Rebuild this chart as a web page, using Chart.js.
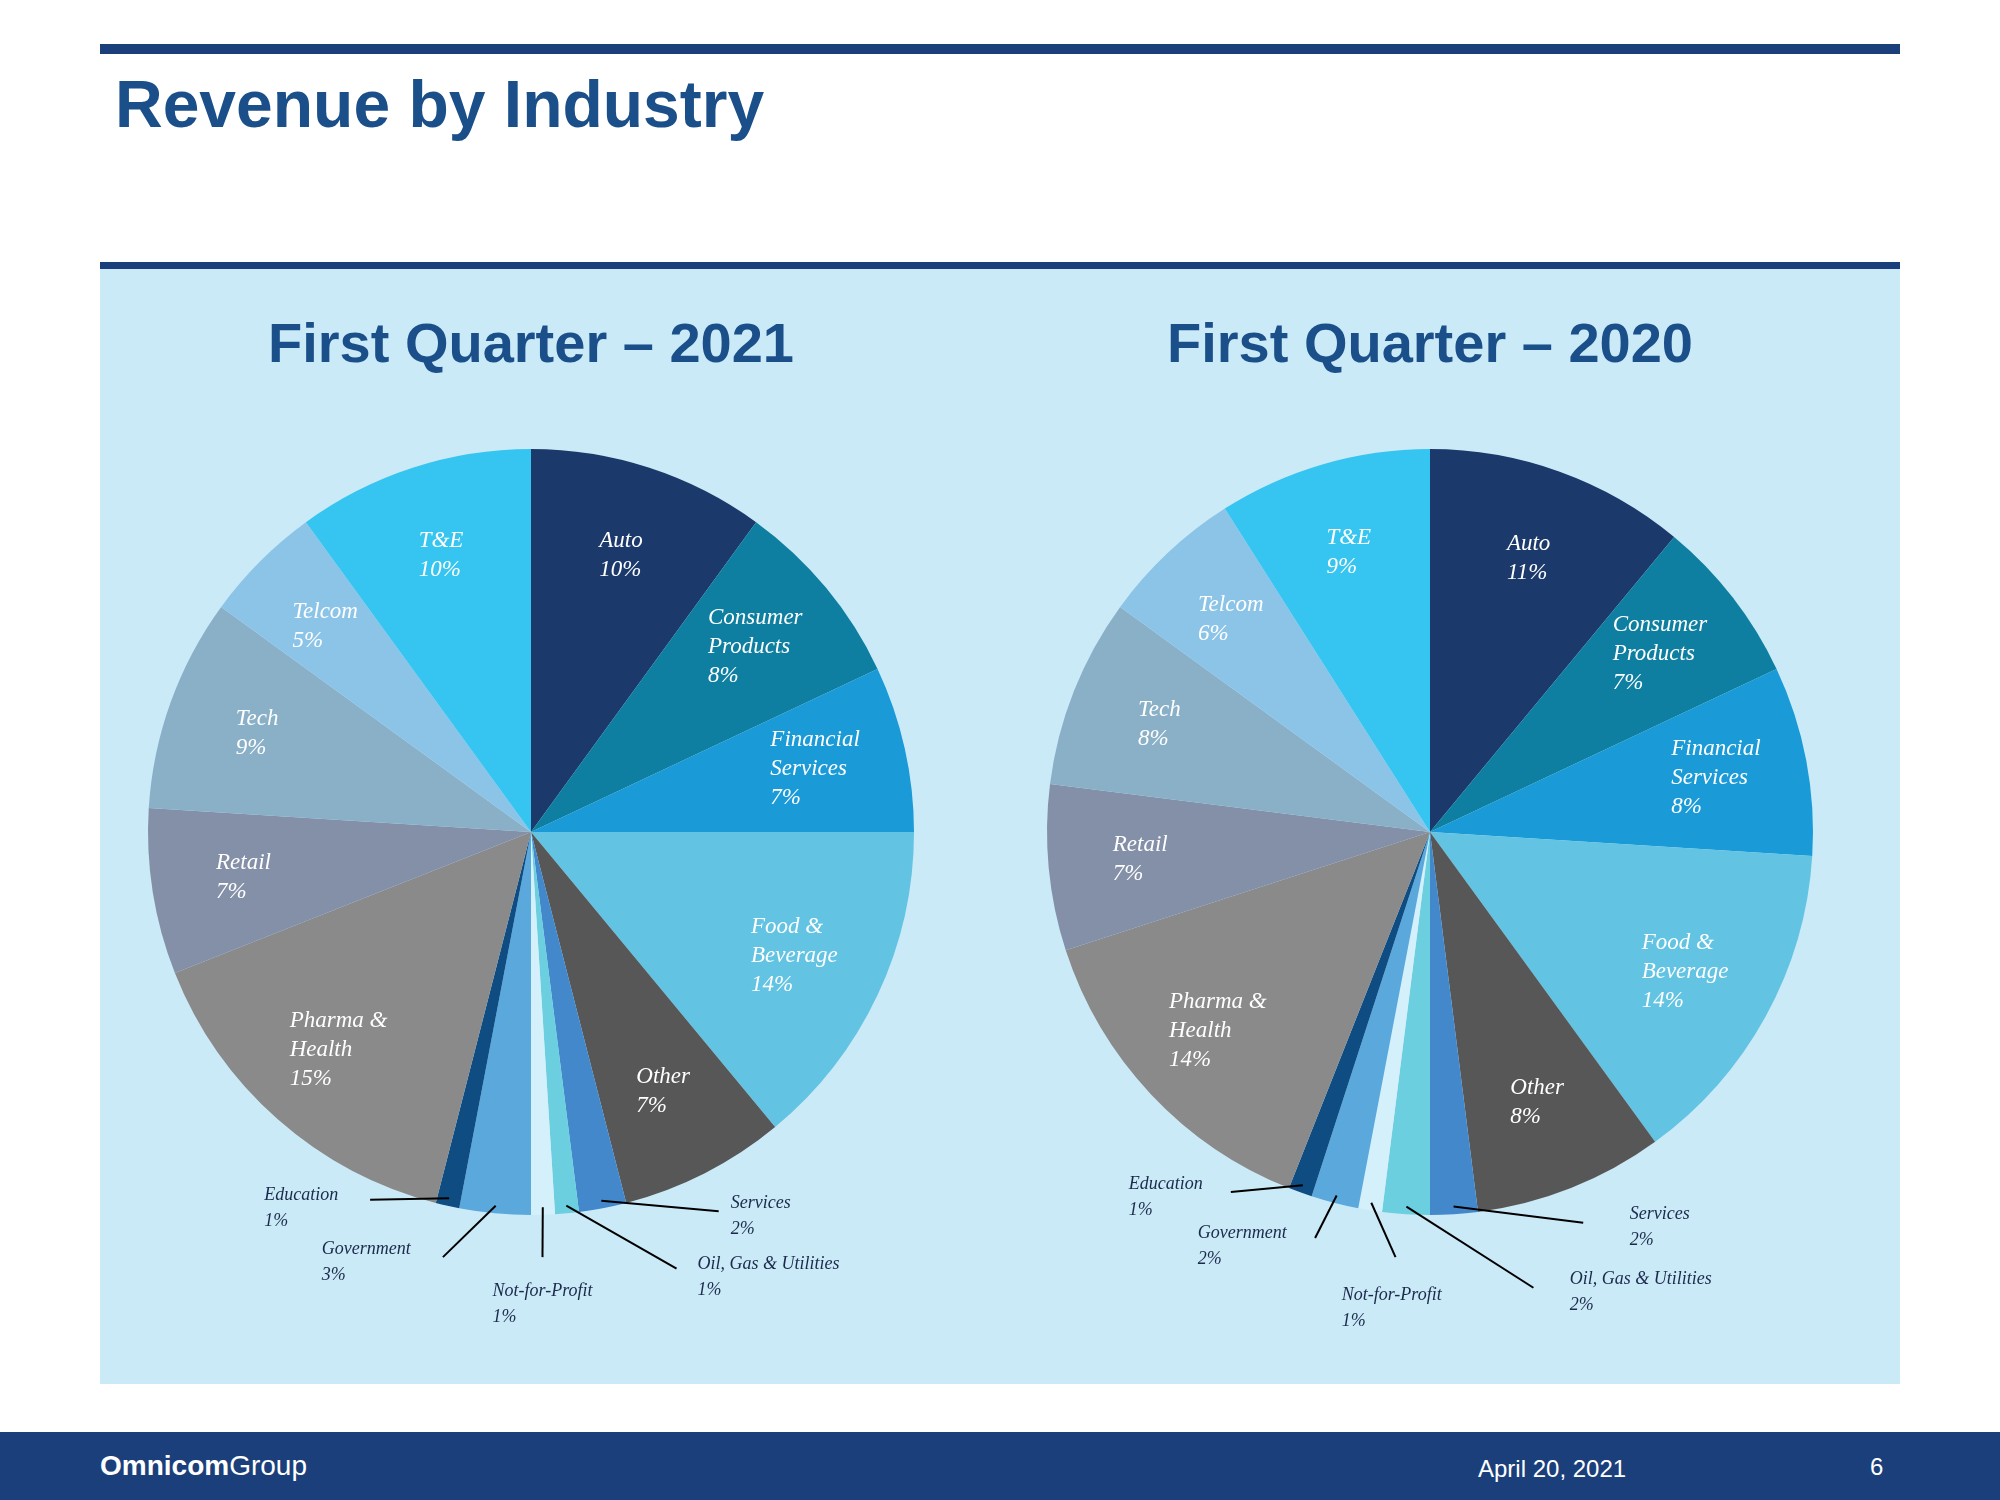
<!DOCTYPE html>
<html><head><meta charset="utf-8">
<script src="https://cdn.jsdelivr.net/npm/chart.js@4/dist/chart.umd.min.js"></script>
<style>
body{margin:0;width:2000px;height:1500px;background:#fff;position:relative;overflow:hidden;font-family:"Liberation Sans",Arial,sans-serif}
.abs{position:absolute}
</style></head><body>
<div class="abs" style="left:100px;top:44px;width:1800px;height:10px;background:#1b3f7a"></div>
<div class="abs" style="left:115px;top:66px;font-size:66px;font-weight:bold;color:#1b4f8a">Revenue by Industry</div>
<div class="abs" style="left:100px;top:262px;width:1800px;height:7px;background:#1b3f7a"></div>
<div class="abs" style="left:100px;top:269px;width:1800px;height:1115px;background:#cbeaf8"></div>
<div class="abs" style="left:0;top:1432px;width:2000px;height:68px;background:#1b3f7a"></div>
<div class="abs" style="left:100px;top:1450px;font-size:28px;color:#fff"><b>Omnicom</b>Group</div>
<div class="abs" style="left:1478px;top:1455px;font-size:24px;color:#fff">April 20, 2021</div>
<div class="abs" style="left:1870px;top:1453px;font-size:24px;color:#fff">6</div>
<div class="abs" style="left:131px;top:310px;width:800px;text-align:center;font-size:56px;font-weight:bold;color:#1b4f8a">First Quarter – 2021</div>
<div class="abs" style="left:1030px;top:310px;width:800px;text-align:center;font-size:56px;font-weight:bold;color:#1b4f8a">First Quarter – 2020</div>
<div class="abs" style="left:81px;top:382px;width:900px;height:1000px"><canvas id="c1"></canvas></div>
<div class="abs" style="left:980px;top:382px;width:900px;height:1000px"><canvas id="c2"></canvas></div>
<script>
const categories=["Auto","Consumer\nProducts","Financial\nServices","Food &\nBeverage","Other","Services","Oil, Gas & Utilities","Not-for-Profit","Government","Education","Pharma &\nHealth","Retail","Tech","Telcom","T&E"];
const values2021=[10,8,7,14,7,2,1,1,3,1,15,7,9,5,10];
const values2020=[11,7,8,14,8,2,2,1,2,1,14,7,8,6,9];
const colors=["#1b3a6b","#0e7fa0","#1a9ad6","#62c3e3","#575757","#4488cc","#6ccfe0","#d4f0fb","#5ba8dc","#0f4c81","#8a8a8a","#8490a8","#8ab0c8","#8cc4e8","#36c5f0"];
const external=[5,6,7,8,9];
// layout: label position & leader-line end, in units of radius, relative to pie centre
const layout2021={5:[[0.6,1.0],[0.49,0.99]],6:[[0.62,1.16],[0.38,1.14]],7:[[0.03,1.23],[0.03,1.11]],8:[[-0.43,1.12],[-0.23,1.11]],9:[[-0.6,0.98],[-0.42,0.96]]};
const layout2020={5:[[0.6,1.03],[0.4,1.02]],6:[[0.55,1.2],[0.27,1.19]],7:[[-0.1,1.24],[-0.09,1.11]],8:[[-0.49,1.08],[-0.3,1.06]],9:[[-0.69,0.95],[-0.52,0.94]]};
function labelPlugin(values,layout){return{id:'lbl',afterDatasetsDraw(chart){
  const ctx=chart.ctx;const arcs=chart.getDatasetMeta(0).data;
  const cx=arcs[0].x,cy=arcs[0].y,r=arcs[0].outerRadius;
  ctx.save();ctx.textBaseline='middle';
  arcs.forEach((a,i)=>{
    const mid=(a.startAngle+a.endAngle)/2;
    if(external.includes(i)){
      const [lp,le]=layout[i];
      ctx.strokeStyle='#000';ctx.lineWidth=2;ctx.beginPath();
      ctx.moveTo(cx+Math.cos(mid)*r*0.98,cy+Math.sin(mid)*r*0.98);
      ctx.lineTo(cx+le[0]*r,cy+le[1]*r);ctx.stroke();
      ctx.fillStyle='#1b2a4a';ctx.font='italic 18px "Liberation Serif",serif';ctx.textAlign='left';
      const lx=cx+lp[0]*r,ly=cy+lp[1]*r;const w=ctx.measureText(categories[i]).width;
      ctx.fillText(categories[i],lx-w/2,ly-12);ctx.fillText(values[i]+'%',lx-w/2,ly+14);
    }else{
      const lines=categories[i].split('\n').concat([values[i]+'%']);
      const f=0.76;const x=cx+Math.cos(mid)*r*f,y=cy+Math.sin(mid)*r*f;
      ctx.fillStyle='#fff';ctx.font='italic 23px "Liberation Serif",serif';ctx.textAlign='left';
      const w=Math.max(...lines.map(s=>ctx.measureText(s).width));
      const h=29;const y0=y-(lines.length-1)*h/2;
      lines.forEach((s,k)=>ctx.fillText(s,x-w/2,y0+k*h));
    }
  });ctx.restore();}}}
function make(id,values,layout){
  new Chart(document.getElementById(id),{type:'pie',
    data:{labels:categories,datasets:[{data:values,backgroundColor:colors,borderWidth:0}]},
    options:{responsive:true,maintainAspectRatio:false,animation:false,layout:{padding:{left:67,right:67,top:67,bottom:167}},
      plugins:{legend:{display:false},tooltip:{enabled:false}}},
    plugins:[labelPlugin(values,layout)]});
}
make('c1',values2021,layout2021);
make('c2',values2020,layout2020);
</script></body></html>
